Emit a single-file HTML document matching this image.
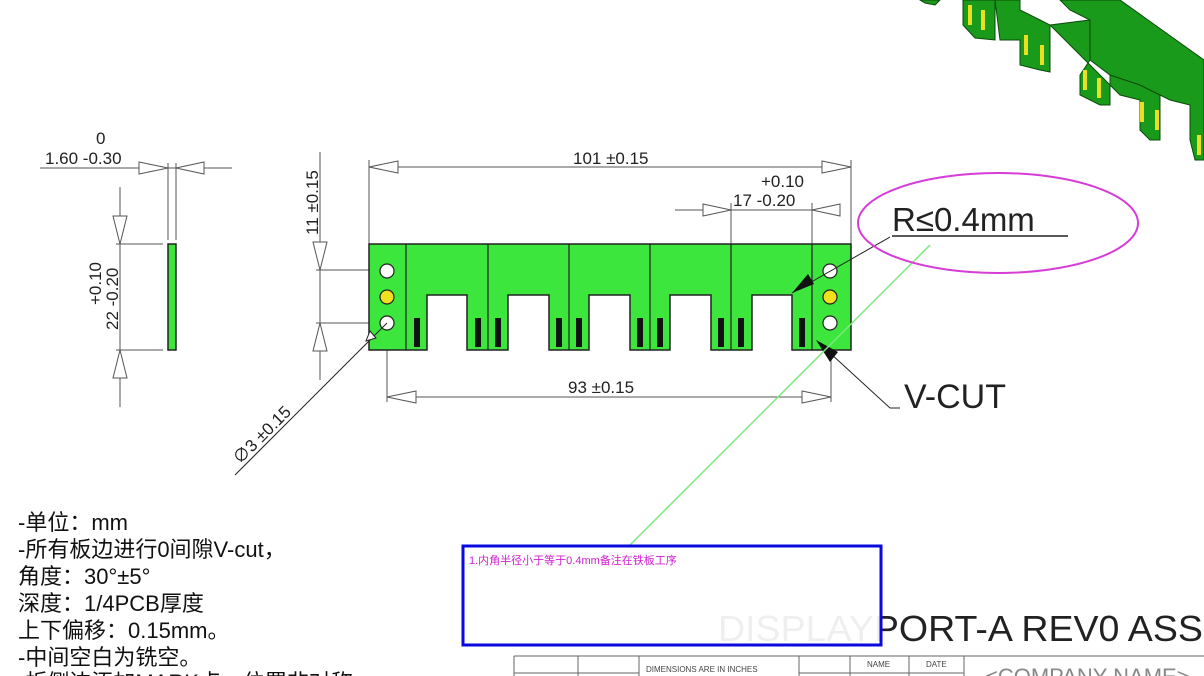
<!DOCTYPE html>
<html><head><meta charset="utf-8"><style>
html,body{margin:0;padding:0;background:#fff;width:1204px;height:676px;overflow:hidden}
svg{display:block}
text{font-family:"Liberation Sans","Noto Sans CJK SC",sans-serif}
</style></head><body>
<svg width="1204" height="676" viewBox="0 0 1204 676" xmlns="http://www.w3.org/2000/svg">
<!-- 3D iso fragment top right -->
<g fill="#1a9a1a" stroke="#0b4a0b" stroke-width="1">
<polygon points="920,0 940,0 935,5 925,3"/>
<polygon points="963,0 995,0 995,40 975,38 963,25"/>
<polygon points="995,0 1020,0 1020,10 1040,20 1050,25 1050,72 1040,70 1020,65 1020,40 1000,40"/>
<polygon points="1050,25 1090,20 1090,60 1080,75 1080,95 1100,105 1110,105 1110,75 1130,80 1140,85 1160,95 1160,140 1150,140 1140,130 1140,100 1120,95"/>
<polygon points="1060,0 1120,0 1204,60 1204,160 1195,160 1190,140 1190,105 1170,100 1160,95 1140,85 1110,75 1090,60 1090,20 1070,10"/>
</g>
<g fill="#e8e020">
<rect x="968" y="5" width="4" height="20"/><rect x="981" y="10" width="4" height="20"/>
<rect x="1024" y="35" width="4" height="20"/><rect x="1040" y="45" width="4" height="20"/>
<rect x="1083" y="70" width="4" height="20"/><rect x="1097" y="78" width="4" height="20"/>
<rect x="1140" y="102" width="4" height="20"/><rect x="1155" y="110" width="4" height="20"/>
<rect x="1197" y="135" width="4" height="20"/>
</g>

<g stroke="#555" stroke-width="1" fill="none">
<line x1="40" y1="168" x2="232" y2="168"/>
<line x1="168" y1="163" x2="168" y2="240"/><line x1="176" y1="163" x2="176" y2="240"/>
<polygon points="139,162 139,174 168,168" fill="#fff"/>
<polygon points="204,162 204,174 176,168" fill="#fff"/>
<line x1="120" y1="187" x2="120" y2="407"/>
<line x1="116" y1="244" x2="163" y2="244"/><line x1="116" y1="350" x2="163" y2="350"/>
<polygon points="113,216 127,216 120,244" fill="#fff"/>
<polygon points="113,378 127,378 120,350" fill="#fff"/>
<line x1="320" y1="152" x2="320" y2="380"/>
<line x1="316" y1="270" x2="380" y2="270"/><line x1="316" y1="323" x2="380" y2="323"/>
<polygon points="313,242 327,242 320,270" fill="#fff"/>
<polygon points="313,351 327,351 320,323" fill="#fff"/>
<line x1="369" y1="167" x2="851" y2="167"/>
<line x1="369" y1="160" x2="369" y2="244"/><line x1="851" y1="160" x2="851" y2="244"/>
<polygon points="398,161 398,173 369,167" fill="#fff"/>
<polygon points="822,161 822,173 851,167" fill="#fff"/>
<line x1="675" y1="210" x2="840" y2="210"/>
<line x1="731" y1="203" x2="731" y2="244"/><line x1="812" y1="203" x2="812" y2="244"/>
<polygon points="703,204 703,216 731,210" fill="#fff"/>
<polygon points="840,204 840,216 812,210" fill="#fff"/>
<line x1="387" y1="397" x2="831" y2="397"/>
<line x1="387" y1="323" x2="387" y2="402"/><line x1="831" y1="323" x2="831" y2="402"/>
<polygon points="416,391 416,403 387,397" fill="#fff"/>
<polygon points="802,391 802,403 831,397" fill="#fff"/>
</g>
<rect x="168" y="244" width="8" height="106" fill="#3ce63c" stroke="#222" stroke-width="1.5"/>
<path d="M369,244 H851 V350 H792 V295 H752 V350 H711 V295 H670 V350 H630 V295 H589 V350 H549 V295 H508 V350 H467 V295 H427 V350 H369 Z" fill="#3ce63c" stroke="#222" stroke-width="1.5"/>
<g stroke="#222" stroke-width="1.2">
<line x1="406" y1="244" x2="406" y2="350"/><line x1="488" y1="244" x2="488" y2="350"/>
<line x1="569" y1="244" x2="569" y2="350"/><line x1="650" y1="244" x2="650" y2="350"/>
<line x1="731" y1="244" x2="731" y2="350"/><line x1="812" y1="244" x2="812" y2="350"/>
</g>
<g stroke="#222" stroke-width="1.2">
<circle cx="387" cy="271" r="7" fill="#fff"/><circle cx="387" cy="297" r="7" fill="#f0e020"/><circle cx="387" cy="323" r="7" fill="#fff"/>
<circle cx="830" cy="271" r="7" fill="#fff"/><circle cx="830" cy="297" r="7" fill="#f0e020"/><circle cx="830" cy="323" r="7" fill="#fff"/>
</g>
<g fill="#111">
<rect x="414" y="318" width="6" height="29"/><rect x="475" y="318" width="6" height="29"/>
<rect x="495" y="318" width="6" height="29"/><rect x="556" y="318" width="6" height="29"/>
<rect x="576" y="318" width="6" height="29"/><rect x="637" y="318" width="6" height="29"/>
<rect x="657" y="318" width="6" height="29"/><rect x="718" y="318" width="6" height="29"/>
<rect x="738" y="318" width="6" height="29"/><rect x="799" y="318" width="6" height="29"/>
</g>
<g stroke="#222" stroke-width="1" fill="none">
<line x1="387" y1="323" x2="235" y2="475"/>
<line x1="890" y1="237" x2="792" y2="293"/>
<line x1="900" y1="408" x2="890" y2="408"/><line x1="890" y1="408" x2="818" y2="342"/>
</g>
<polygon points="376,338 366,341 370,331" fill="#fff" stroke="#222"/>
<polygon points="792,293 808,274 814,284" fill="#111"/>
<polygon points="816,340 838,352 830,362" fill="#111"/>
<line x1="630" y1="545" x2="930" y2="245" stroke="#7de87d" stroke-width="1.5"/>
<ellipse cx="998" cy="223" rx="140" ry="50" fill="none" stroke="#d63cd6" stroke-width="2"/>
<g fill="#222" font-size="17">
<text x="96" y="144">0</text>
<text x="45" y="164">1.60 -0.30</text>
<text transform="translate(101,305) rotate(-90)">+0.10</text>
<text transform="translate(118,330) rotate(-90)">22  -0.20</text>
<text transform="translate(318,235) rotate(-90)">11 ±0.15</text>
<text x="573" y="164">101 ±0.15</text>
<text x="761" y="187">+0.10</text>
<text x="733" y="206">17 -0.20</text>
<text x="568" y="393">93 ±0.15</text>
<text transform="translate(240,465) rotate(-45)">∅3 ±0.15</text>
</g>
<text x="892" y="231" font-size="33" fill="#222">R≤0.4mm</text>
<line x1="892" y1="236" x2="1068" y2="236" stroke="#222" stroke-width="1.5"/>
<text x="904" y="408" font-size="34" fill="#222">V-CUT</text>
<g fill="#111" font-size="22">
<text x="18" y="530">-单位：mm</text>
<text x="18" y="557">-所有板边进行0间隙V-cut，</text>
<text x="18" y="584">角度：30°±5°</text>
<text x="18" y="611">深度：1/4PCB厚度</text>
<text x="18" y="638">上下偏移：0.15mm。</text>
<text x="18" y="665">-中间空白为铣空。</text>
<text x="18" y="690">-折侧边添加MARK点，位置非对称</text>
</g>
<text x="718" y="641" font-size="36" fill="#222" textLength="510" lengthAdjust="spacingAndGlyphs">DISPLAYPORT-A REV0 ASSY</text>
<rect x="463" y="546" width="418" height="99" fill="#fff" fill-opacity="0.93" stroke="#0a0ae0" stroke-width="3"/>
<text x="469" y="564" font-size="11" fill="#d020d0">1.内角半径小于等于0.4mm备注在铁板工序</text>
<g stroke="#666" stroke-width="1" fill="none">
<line x1="514" y1="656" x2="1204" y2="656"/>
<line x1="514" y1="656" x2="514" y2="676"/><line x1="578" y1="656" x2="578" y2="676"/>
<line x1="639" y1="656" x2="639" y2="676"/><line x1="799" y1="656" x2="799" y2="676"/>
<line x1="850" y1="656" x2="850" y2="676"/><line x1="909" y1="656" x2="909" y2="676"/>
<line x1="964" y1="656" x2="964" y2="676"/>
<line x1="514" y1="673" x2="639" y2="673"/><line x1="799" y1="673" x2="964" y2="673"/>
</g>
<text x="646" y="672" font-size="8" fill="#444">DIMENSIONS ARE IN INCHES</text>
<text x="867" y="667" font-size="8" fill="#444">NAME</text>
<text x="926" y="667" font-size="8" fill="#444">DATE</text>
<text x="985" y="684" font-size="22" fill="#888">&lt;COMPANY NAME&gt;</text>
</svg>
</body></html>
